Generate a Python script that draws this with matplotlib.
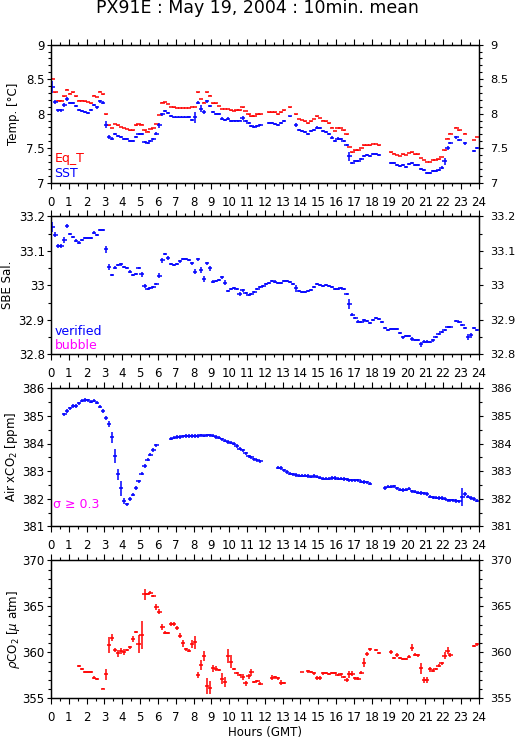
import numpy as np
import matplotlib
matplotlib.use("Agg")
import matplotlib.pyplot as plt
from matplotlib.ticker import MultipleLocator, FuncFormatter

# ---------------- data (10-min means, time = minute of day at interval centre) ----------------
temp_minutes = (list(range(5, 710, 10)) + [735, 745, 755, 765, 775, 785, 805]
                + list(range(825, 1110, 10)) + list(range(1145, 1350, 10))
                + [1365, 1375, 1395, 1425, 1435])

eqt_vals = [8.51, 8.31, 8.19, 8.19, 8.25, 8.35, 8.29, 8.31, 8.25, 8.19, 8.19, 8.18, 8.17, 8.15, 8.26, 8.24, 8.32, 8.28,
            7.99, 7.83, 7.79, 7.85, 7.83, 7.81, 7.79, 7.78, 7.76, 7.76, 7.83, 7.85, 7.84, 7.76, 7.74, 7.78, 7.79, 7.85,
            7.98, 8.16, 8.17, 8.14, 8.10,
            8.09, 8.08, 8.08, 8.08, 8.08, 8.08,
            8.10, 8.10, 8.31, 8.21, 8.16, 8.31, 8.26, 8.15, 8.15, 8.11, 8.07, 8.07, 8.07, 8.05, 8.04, 8.05, 8.05, 8.09,
            8.04, 7.99, 7.96, 7.96, 7.99, 7.99,
            8.02, 8.02, 8.02, 7.99, 8.02, 8.05, 8.09,
            7.99, 7.92, 7.91, 7.89, 7.86, 7.89, 7.92, 7.96, 7.94, 7.90, 7.89, 7.86, 7.80, 7.75, 7.79, 7.79, 7.76, 7.70,
            7.52, 7.44, 7.47, 7.47, 7.50, 7.54, 7.54, 7.54, 7.56, 7.56, 7.54,
            7.44, 7.42, 7.40, 7.39, 7.41, 7.40, 7.43, 7.44, 7.41, 7.41, 7.36, 7.33, 7.30, 7.30, 7.33, 7.33, 7.34, 7.37,
            7.47, 7.64, 7.71,
            7.80, 7.76, 7.71, 7.62, 7.66]
eqt_err = 0.004

sst_vals = [8.39, 8.17, 8.05, 8.05, 8.12, 8.21, 8.16, 8.16, 8.11, 8.05, 8.04, 8.03, 8.01, 8.05, 8.12, 8.09, 8.18, 8.16,
            7.84, 7.66, 7.64, 7.71, 7.68, 7.66, 7.63, 7.63, 7.61, 7.60, 7.66, 7.70, 7.70, 7.59, 7.58, 7.60, 7.63, 7.71,
            7.83, 7.99, 8.04, 8.01, 7.96,
            7.95, 7.95, 7.95, 7.95, 7.95, 7.95,
            7.91, 7.95, 8.16, 8.07, 8.03, 8.18, 8.11, 8.03, 8.00, 7.99, 7.93, 7.91, 7.93, 7.90, 7.90, 7.90, 7.90, 7.94,
            7.90, 7.86, 7.82, 7.81, 7.82, 7.83,
            7.86, 7.86, 7.85, 7.84, 7.86, 7.90, 7.96,
            7.84, 7.77, 7.75, 7.73, 7.70, 7.75, 7.76, 7.80, 7.79, 7.75, 7.74, 7.70, 7.65, 7.60, 7.64, 7.64, 7.60, 7.54,
            7.38, 7.28, 7.31, 7.32, 7.34, 7.39, 7.40, 7.39, 7.41, 7.42, 7.40,
            7.29, 7.28, 7.26, 7.24, 7.25, 7.23, 7.27, 7.28, 7.26, 7.26, 7.20, 7.18, 7.14, 7.14, 7.17, 7.17, 7.18, 7.22,
            7.31, 7.50, 7.57,
            7.66, 7.62, 7.57, 7.46, 7.50]
sst_err = [0.09, 0.03, 0.025, 0.02, 0.03, 0.025, 0.015, 0.015, 0.015, 0.015, 0.015, 0.015, 0.015, 0.015, 0.015, 0.015, 0.02, 0.025,
           0.05, 0.03, 0.02, 0.015, 0.015, 0.015, 0.015, 0.015, 0.015, 0.015, 0.015, 0.015, 0.015, 0.015, 0.015, 0.015,
           0.015, 0.02, 0.04, 0.02, 0.015, 0.015, 0.015,
           0.008, 0.008, 0.008, 0.008, 0.008, 0.015,
           0.02, 0.08, 0.02, 0.05, 0.03, 0.02, 0.015, 0.015, 0.015, 0.015, 0.015, 0.015, 0.015, 0.015, 0.008, 0.008,
           0.008, 0.03, 0.015, 0.015, 0.015, 0.015, 0.015, 0.015,
           0.015, 0.015, 0.015, 0.015, 0.015, 0.015, 0.008,
           0.03, 0.015, 0.015, 0.015, 0.015, 0.015, 0.015, 0.015, 0.015, 0.015, 0.015, 0.015, 0.02, 0.015, 0.02, 0.015,
           0.015, 0.015, 0.06, 0.015, 0.015, 0.015, 0.015, 0.015, 0.015, 0.015, 0.015, 0.015, 0.015,
           0.015, 0.015, 0.015, 0.015, 0.015, 0.015, 0.015, 0.015, 0.015, 0.015, 0.015, 0.015, 0.015, 0.015, 0.015,
           0.015, 0.015, 0.015, 0.05, 0.03, 0.015,
           0.02, 0.015, 0.02, 0.015, 0.015]

sal_minutes = list(range(5, 1350, 10)) + [1365, 1375, 1385, 1395, 1405, 1415, 1425, 1435]
sal_vals = [33.169, 33.147, 33.114, 33.114, 33.131, 33.172, 33.150, 33.141, 33.129, 33.123, 33.131, 33.138, 33.137,
            33.137, 33.153, 33.147, 33.161, 33.160,
            33.104, 33.053, 33.030, 33.051, 33.059, 33.061, 33.053, 33.051, 33.040, 33.030, 33.034, 33.050, 33.032,
            32.999, 32.990, 32.991, 32.994, 33.004, 33.028, 33.072, 33.092, 33.078, 33.061,
            33.059, 33.061, 33.069, 33.075, 33.076, 33.072, 33.064, 33.040, 33.075, 33.044, 33.019, 33.064, 33.049,
            33.011, 33.013, 33.015, 33.023, 33.008, 32.984, 32.990, 32.992, 32.990, 32.975, 32.985, 32.977, 32.971,
            32.975, 32.981, 32.990, 32.995, 32.999, 33.003, 33.007, 33.012, 33.011, 33.007, 33.008, 33.013, 33.012,
            33.009, 33.004, 32.992, 32.984, 32.981, 32.981, 32.984, 32.986, 32.994, 33.003, 33.001, 32.999, 33.000,
            32.999, 32.995, 32.989, 32.990, 32.992, 32.990, 32.975, 32.946, 32.915, 32.906, 32.895, 32.893, 32.898,
            32.897, 32.892, 32.900, 32.906, 32.901, 32.894, 32.877, 32.870, 32.874, 32.874, 32.874, 32.861, 32.849,
            32.853, 32.854, 32.844, 32.842, 32.842, 32.829, 32.837, 32.837, 32.836, 32.840, 32.850, 32.859, 32.864,
            32.870, 32.878, 32.880,
            32.897, 32.893, 32.886, 32.877, 32.850, 32.855, 32.875, 32.871]
sal_err = [0.015, 0.007, 0.007, 0.007, 0.008, 0.006, 0.003, 0.003, 0.004, 0.004, 0.003, 0.003, 0.003, 0.003, 0.003,
           0.003, 0.003, 0.003,
           0.010, 0.010, 0.003, 0.004, 0.004, 0.005, 0.004, 0.003, 0.004, 0.003, 0.003, 0.003, 0.008, 0.006, 0.003,
           0.003, 0.003, 0.004, 0.008, 0.007, 0.003, 0.006, 0.003,
           0.003, 0.003, 0.003, 0.003, 0.003, 0.003, 0.004, 0.008, 0.005, 0.009, 0.008, 0.004, 0.007, 0.004, 0.003,
           0.003, 0.005, 0.006, 0.003, 0.003, 0.003, 0.003, 0.006, 0.003, 0.003, 0.003,
           0.003, 0.003, 0.003, 0.003, 0.003, 0.003, 0.003, 0.003, 0.003, 0.003, 0.003, 0.003, 0.003, 0.003, 0.003,
           0.010, 0.003, 0.003, 0.003, 0.003, 0.003, 0.003, 0.003, 0.003, 0.003, 0.003, 0.003, 0.003, 0.003, 0.003,
           0.003, 0.003, 0.004, 0.015, 0.005, 0.003, 0.003, 0.003, 0.003, 0.003, 0.003, 0.003, 0.003, 0.003, 0.003,
           0.003, 0.003, 0.003, 0.003, 0.003, 0.003, 0.005, 0.003, 0.003, 0.005, 0.003, 0.003, 0.007, 0.003, 0.004,
           0.004, 0.003, 0.003, 0.003, 0.003, 0.003, 0.003, 0.003,
           0.003, 0.003, 0.003, 0.003, 0.010, 0.008, 0.003, 0.003]

air_minutes = (list(range(45, 360, 10)) + list(range(405, 710, 10))
               + list(range(765, 1080, 10)) + list(range(1125, 1440, 10)))
air_vals = [385.06, 385.18, 385.27, 385.36, 385.36, 385.46, 385.55, 385.58, 385.56, 385.52, 385.55, 385.48, 385.33,
            385.18, 384.92, 384.70, 384.22, 383.55, 382.88, 382.37, 381.91, 381.80, 381.99, 382.15, 382.39, 382.63,
            382.91, 383.19, 383.42, 383.60, 383.76, 383.94,
            384.18, 384.21, 384.23, 384.24, 384.26, 384.27, 384.27, 384.27, 384.27, 384.27, 384.29, 384.28, 384.29,
            384.29, 384.28, 384.24, 384.21, 384.15, 384.10, 384.05, 384.03, 384.00, 383.91, 383.81, 383.75, 383.65,
            383.54, 383.50, 383.43, 383.39, 383.36,
            383.13, 383.11, 383.03, 382.97, 382.91, 382.88, 382.86, 382.84, 382.84, 382.84, 382.82, 382.80, 382.82,
            382.80, 382.76, 382.73, 382.72, 382.73, 382.75, 382.75, 382.72, 382.72, 382.71, 382.70, 382.67, 382.67,
            382.67, 382.66, 382.62, 382.61, 382.59, 382.55,
            382.39, 382.43, 382.44, 382.45, 382.38, 382.33, 382.31, 382.33, 382.36, 382.27, 382.25, 382.22, 382.21,
            382.19, 382.17, 382.07, 382.05, 382.04, 382.02, 382.02, 382.00, 381.94, 381.94, 381.94, 381.92, 381.90,
            382.07, 382.16, 382.07, 382.02, 381.99, 381.93]
air_err = [0.06, 0.06, 0.06, 0.06, 0.06, 0.06, 0.06, 0.06, 0.06, 0.06, 0.06, 0.06, 0.06, 0.07, 0.07, 0.11, 0.21,
           0.24, 0.21, 0.27, 0.10, 0.06, 0.06, 0.06, 0.07, 0.06, 0.06, 0.06, 0.06, 0.06, 0.06, 0.06,
           0.06, 0.06, 0.06, 0.06, 0.06, 0.06, 0.06, 0.06, 0.06, 0.06, 0.06, 0.06, 0.06, 0.06, 0.06, 0.06, 0.06,
           0.06, 0.06, 0.06, 0.06, 0.06, 0.06, 0.06, 0.06, 0.06, 0.06, 0.06, 0.06, 0.06, 0.06,
           0.06, 0.06, 0.06, 0.06, 0.06, 0.06, 0.06, 0.06, 0.06, 0.06, 0.06, 0.06, 0.06, 0.06, 0.06, 0.06, 0.06,
           0.06, 0.06, 0.06, 0.06, 0.06, 0.06, 0.06, 0.06, 0.06, 0.06, 0.06, 0.06, 0.06, 0.06, 0.06,
           0.06, 0.06, 0.06, 0.06, 0.06, 0.06, 0.06, 0.06, 0.06, 0.06, 0.06, 0.06, 0.06, 0.06, 0.06, 0.06, 0.06,
           0.06, 0.06, 0.06, 0.06, 0.06, 0.06, 0.06, 0.06, 0.06, 0.32, 0.08, 0.06, 0.06, 0.06, 0.06]

pco2_minutes = (list(range(95, 160, 10)) + list(range(175, 710, 10)) + list(range(745, 790, 10)) + [845]
                + list(range(865, 1080, 10)) + [1095, 1105] + list(range(1145, 1350, 10)) + [1425, 1435])
pco2_vals = [358.48, 358.19, 357.86, 357.86, 357.83, 357.25, 357.10,
             356.05, 357.61, 360.80, 361.60, 360.25, 359.89, 360.14, 360.04, 360.25, 360.54, 361.45, 362.21,
             360.91, 361.88, 366.30, 366.34, 366.49, 366.16, 364.93, 364.42, 362.72, 362.14, 362.10, 363.08,
             363.04, 362.64, 361.81, 360.98, 360.33, 360.18, 360.91, 361.09, 357.54, 358.62, 359.60, 356.34,
             356.16, 358.26, 358.22, 358.08, 357.14, 356.78, 359.60, 358.99, 358.19, 357.75, 357.54, 357.32,
             356.63, 357.39, 357.81, 356.76, 356.87, 356.60,
             357.25, 357.28, 357.17, 356.70, 356.63,
             357.86,
             357.93, 357.86, 357.72, 357.21, 357.21, 357.72, 357.72, 357.64, 357.72, 357.75, 357.54, 357.61,
             357.32, 356.96, 357.61, 357.68, 357.17, 357.14, 357.79, 358.88, 359.82, 360.33,
             360.25, 359.89,
             360.04, 359.38, 359.67, 359.38, 359.31, 359.24, 359.53, 360.51, 359.75, 359.67, 358.26, 356.99,
             356.99, 358.15, 358.01, 358.19, 358.55, 358.80, 359.64, 360.18, 359.71,
             360.65, 360.87]
pco2_err = [0.12, 0.12, 0.15, 0.15, 0.12, 0.15, 0.12,
            0.03, 0.6, 0.9, 0.35, 0.25, 0.4, 0.35, 0.35, 0.15, 0.15, 0.35, 0.15, 1.0, 1.5, 0.6, 0.15, 0.15, 0.12,
            0.35, 0.3, 0.35, 0.15, 0.15, 0.2, 0.2, 0.25, 0.25, 0.35, 0.15, 0.15, 0.4, 0.7, 0.35, 0.55, 0.5, 0.85,
            0.7, 0.35, 0.3, 0.15, 0.6, 0.55, 0.8, 0.75, 0.15, 0.15, 0.12, 0.3, 0.3, 0.3, 0.35, 0.15, 0.15, 0.12,
            0.3, 0.15, 0.15, 0.25, 0.12,
            0.05,
            0.15, 0.15, 0.15, 0.2, 0.2, 0.15, 0.12, 0.12, 0.12, 0.12, 0.15, 0.15, 0.15, 0.2, 0.4, 0.3, 0.15, 0.15,
            0.15, 0.5, 0.25, 0.15,
            0.12, 0.12,
            0.2, 0.15, 0.2, 0.15, 0.12, 0.12, 0.2, 0.35, 0.15, 0.15, 0.6, 0.3, 0.35, 0.3, 0.15, 0.15, 0.15, 0.15,
            0.4, 0.35, 0.25,
            0.12, 0.15]

hour_ticks = list(range(0, 25))

# ---------------- styling ----------------
BLUE = "#0000ff"
RED = "#ff0000"
MAG = "#ff00ff"
FONT = "DejaVu Sans"
FS = 8.5
XHALF = 0.12          # half width of the horizontal bar (hours)
LW = 1.1

plt.rcParams["font.family"] = [FONT]
W, H = 515, 739
fig = plt.figure(figsize=(W / 100, H / 100), dpi=100)

left_px, width_px, height_px = 51, 427.7, 138
tops_px = [44.7, 216.3, 388.3, 560.3]


def make_ax(i):
    top = tops_px[i]
    return fig.add_axes([left_px / W, 1 - (top + height_px) / H, width_px / W, height_px / H])


def style(ax, ylim, major, minor, ylabel, ylabel_x):
    ax.set_xlim(0, 24)
    ax.set_ylim(*ylim)
    ax.set_xticks(hour_ticks)
    ax.xaxis.set_minor_locator(MultipleLocator(0.5))
    ax.yaxis.set_major_locator(MultipleLocator(major))
    ax.yaxis.set_minor_locator(MultipleLocator(minor))
    fmt = FuncFormatter(lambda v, p: f"{round(v, 3):g}")
    ax.yaxis.set_major_formatter(fmt)
    ax.tick_params(axis="x", which="both", direction="out", top=True, bottom=True,
                   labeltop=False, labelbottom=True, width=0.8, labelsize=FS)
    ax.tick_params(axis="x", which="major", length=4, pad=5.5)
    ax.tick_params(axis="x", which="minor", length=2)
    ax.tick_params(axis="y", which="both", direction="out", left=True, right=False,
                   width=0.8, labelsize=FS, pad=1.5)
    ax.tick_params(axis="y", which="major", length=3)
    ax.tick_params(axis="y", which="minor", length=2)
    for s in ax.spines.values():
        s.set_linewidth(0.9)
    axr = ax.twinx()
    axr.set_ylim(*ylim)
    axr.yaxis.set_major_locator(MultipleLocator(major))
    axr.yaxis.set_minor_locator(MultipleLocator(minor))
    axr.yaxis.set_major_formatter(fmt)
    axr.tick_params(axis="y", which="both", direction="out", right=True, left=False,
                    width=0.8, labelsize=8.2, pad=5.5)
    axr.tick_params(axis="y", which="major", length=3)
    axr.tick_params(axis="y", which="minor", length=2)
    for s in axr.spines.values():
        s.set_linewidth(0.9)
    ax.set_ylabel(ylabel, fontsize=FS, va="center")
    ax.yaxis.set_label_coords((ylabel_x - left_px) / width_px, 0.5)


def bars(ax, minutes, vals, err, color):
    hrs = np.asarray(minutes, dtype=float) / 60.0
    ax.errorbar(hrs, vals, yerr=err, xerr=XHALF, fmt="none", ecolor=color,
                elinewidth=LW, capsize=0, zorder=3)


# Panel 1: temperature
ax1 = make_ax(0)
bars(ax1, temp_minutes, eqt_vals, eqt_err, RED)
bars(ax1, temp_minutes, sst_vals, sst_err, BLUE)
style(ax1, (7, 9), 0.5, 0.1, "Temp. [\u00b0C]", 13)
ax1.text(0.008, 0.177, "Eq_T", color=RED, fontsize=9, transform=ax1.transAxes, va="center", ha="left")
ax1.text(0.008, 0.07, "SST", color=BLUE, fontsize=9, transform=ax1.transAxes, va="center", ha="left")

# Panel 2: salinity
ax2 = make_ax(1)
bars(ax2, sal_minutes, sal_vals, sal_err, BLUE)
style(ax2, (32.8, 33.2), 0.1, 0.05, "SBE Sal.", 8)
ax2.text(0.008, 0.164, "verified", color=BLUE, fontsize=9, transform=ax2.transAxes, va="center", ha="left")
ax2.text(0.008, 0.067, "bubble", color=MAG, fontsize=9, transform=ax2.transAxes, va="center", ha="left")

# Panel 3: air xCO2
ax3 = make_ax(2)
bars(ax3, air_minutes, air_vals, air_err, BLUE)
style(ax3, (381, 386), 1, 0.5, "Air xCO$_2$ [ppm]", 12)
ax3.text(0.005, 0.157, "\u03c3 \u2265 0.3", color=MAG, fontsize=9, transform=ax3.transAxes, va="center", ha="left")

# Panel 4: pCO2
ax4 = make_ax(3)
bars(ax4, pco2_minutes, pco2_vals, pco2_err, RED)
style(ax4, (355, 370), 5, 1, "$\\rho$CO$_2$ [$\\mu$ atm]", 13)
ax4.set_xlabel("Hours (GMT)", fontsize=FS, labelpad=1)

fig.text(0.5, 1 - 13 / H, "PX91E : May 19, 2004 : 10min. mean", ha="center", va="baseline",
         fontsize=12.5)

fig.savefig("out.png", dpi=100)
